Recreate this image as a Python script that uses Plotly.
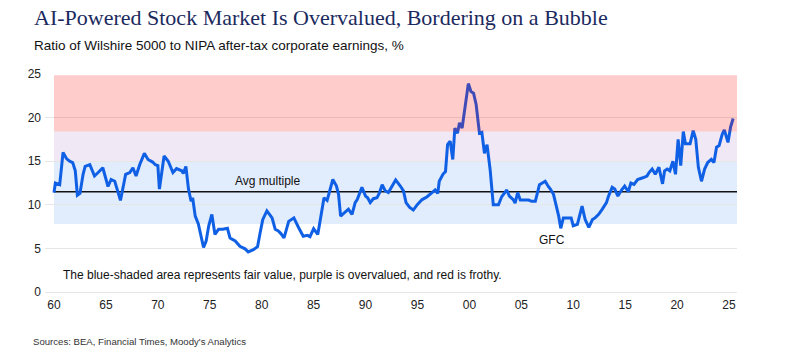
import plotly.graph_objects as go

# ---- data ----
years = [
    1960.00, 1960.13, 1960.55, 1960.87, 1961.2, 1961.5, 1961.8, 1962.05, 1962.25, 1962.5,
    1962.8, 1963.0, 1963.45, 1963.9, 1964.25, 1964.7, 1965.2, 1965.5, 1965.85, 1966.4,
    1966.9, 1967.3, 1967.6, 1967.9, 1968.25, 1968.7, 1969.05, 1969.5, 1969.75, 1970.0,
    1970.15, 1970.6, 1971.0, 1971.45, 1971.8, 1972.3, 1972.45, 1972.7, 1972.95, 1973.2,
    1973.35, 1973.6, 1973.9, 1974.1, 1974.4, 1974.65, 1974.9, 1975.2, 1975.5, 1975.85,
    1976.25, 1976.7, 1976.95, 1977.45, 1977.9, 1978.4, 1978.7, 1979.2, 1979.6, 1979.85,
    1980.1, 1980.5, 1981.0, 1981.3, 1981.6, 1981.85, 1982.15, 1982.6, 1983.1, 1983.55,
    1984.0, 1984.4, 1984.65, 1985.0, 1985.4, 1985.7, 1986.0, 1986.3, 1986.6, 1986.85,
    1987.2, 1987.4, 1987.6, 1988.0, 1988.35, 1988.7, 1989.0, 1989.2, 1989.65, 1990.0,
    1990.2, 1990.45, 1990.75, 1991.1, 1991.35, 1991.6, 1991.9, 1992.2, 1992.55, 1992.9,
    1993.35, 1993.65, 1993.9, 1994.25, 1994.6, 1995.0, 1995.45, 1995.9, 1996.4, 1996.7,
    1996.95, 1997.1, 1997.45, 1997.7, 1997.9, 1998.15, 1998.4, 1998.6, 1998.85, 1999.05,
    1999.3, 1999.6, 1999.9, 2000.15, 2000.4, 2000.65, 2000.97, 2001.2, 2001.45, 2001.7,
    2002.0, 2002.3, 2002.8, 2003.1, 2003.6, 2003.85, 2004.25, 2004.4, 2004.65, 2004.9,
    2005.4, 2005.7, 2006.0, 2006.35, 2006.75, 2007.3, 2007.6, 2007.8, 2008.1, 2008.35,
    2008.6, 2008.8, 2009.05, 2009.4, 2009.8, 2010.0, 2010.4, 2010.85, 2011.15, 2011.5,
    2011.85, 2012.1, 2012.45, 2012.8, 2013.2, 2013.4, 2013.75, 2014.0, 2014.3, 2014.65,
    2014.95, 2015.3, 2015.55, 2015.85, 2016.2, 2016.7, 2017.1, 2017.3, 2017.6, 2017.9,
    2018.25, 2018.6, 2018.8, 2019.05, 2019.3, 2019.6, 2019.85, 2020.1, 2020.35, 2020.6,
    2020.8, 2021.25, 2021.55, 2021.8, 2022.05, 2022.35, 2022.65, 2022.95, 2023.3, 2023.55,
    2023.8, 2024.05, 2024.35, 2024.55, 2024.9, 2025.15, 2025.4,
]
ratio = [
    11.4, 12.5, 12.3, 16.0, 15.3, 15.0, 14.85, 13.9, 11.1, 11.3,
    13.5, 14.4, 14.6, 13.3, 13.7, 14.25, 12.1, 12.9, 12.7, 10.5,
    13.5, 13.7, 14.25, 13.3, 14.6, 15.9, 15.2, 14.9, 14.6, 14.5,
    11.8, 15.6, 15.0, 13.7, 14.15, 13.9, 13.6, 14.4, 11.8, 10.4,
    10.8, 8.7, 7.8, 6.8, 5.1, 5.85, 7.6, 8.9, 6.6, 7.2,
    7.2, 7.3, 6.2, 5.85, 5.25, 4.95, 4.6, 4.85, 5.2, 6.8,
    8.3, 9.3, 8.5, 7.2, 7.0, 6.7, 6.2, 8.1, 8.5, 7.4,
    6.4, 6.5, 6.35, 7.25, 6.6, 8.7, 10.8, 10.5, 11.8, 12.9,
    12.15, 11.2, 8.7, 9.1, 9.5, 8.9, 10.25, 10.6, 12.0, 11.0,
    10.8, 10.25, 10.7, 10.8, 11.4, 12.3, 11.6, 11.4, 12.15, 12.85,
    12.15, 11.6, 10.25, 9.7, 9.4, 10.05, 10.6, 10.9, 11.4, 11.7,
    11.3, 12.7, 13.5, 13.8, 16.9, 17.3, 15.2, 18.8, 18.2, 19.4,
    18.8, 21.3, 23.9, 23.0, 22.8, 21.5, 18.2, 18.3, 15.9, 16.9,
    14.0, 10.0, 10.0, 10.9, 11.7, 11.0, 10.55, 10.2, 11.4, 10.55,
    10.6, 10.55, 10.4, 10.4, 12.3, 12.7, 12.1, 11.8, 11.2, 10.05,
    8.7, 7.3, 8.5, 8.5, 8.5, 7.6, 7.75, 9.85, 8.3, 7.4,
    8.3, 8.5, 8.9, 9.5, 10.25, 11.0, 12.0, 11.8, 11.0, 11.7,
    12.15, 11.5, 12.5, 12.35, 12.9, 13.1, 13.3, 13.7, 14.1, 13.5,
    14.3, 12.4, 13.9, 14.1, 13.9, 15.0, 13.5, 17.5, 14.5, 18.4,
    17.0, 17.0, 18.5, 17.5, 14.3, 12.7, 14.1, 14.85, 15.2, 14.85,
    16.6, 16.8, 18.1, 18.6, 17.15, 18.9, 19.9,
]

avg_multiple = 11.5
fair_band = [7.8, 15.0]       # blue
over_band = [15.0, 18.4]      # purple
froth_band = [18.4, 24.85]    # red
band_x = [1960.0, 2025.77]

tick_years = [1960, 1965, 1970, 1975, 1980, 1985, 1990, 1995, 2000, 2005, 2010, 2015, 2020, 2025]
tick_text = ["60", "65", "70", "75", "80", "85", "90", "95", "00", "05", "10", "15", "20", "25"]

title_text = "AI-Powered Stock Market Is Overvalued, Bordering on a Bubble"
subtitle_text = "Ratio of Wilshire 5000 to NIPA after-tax corporate earnings, %"
note_text = "The blue-shaded area represents fair value, purple is overvalued, and red is frothy."
source_text = "Sources: BEA, Financial Times, Moody's Analytics"

SANS = "Liberation Sans, Arial, sans-serif"
SERIF = "Liberation Serif, Times New Roman, serif"

fig = go.Figure()
fig.add_trace(go.Scatter(
    x=years, y=ratio, mode="lines",
    line=dict(color="#1060e6", width=3),
    hoverinfo="skip", showlegend=False,
))

shapes = [
    dict(type="rect", xref="x", yref="y", x0=band_x[0], x1=band_x[1],
         y0=fair_band[0], y1=fair_band[1], fillcolor="rgb(225,236,252)",
         line=dict(width=0), layer="below"),
    dict(type="rect", xref="x", yref="y", x0=band_x[0], x1=band_x[1],
         y0=over_band[0], y1=over_band[1], fillcolor="rgb(240,232,244)",
         line=dict(width=0), layer="below"),
    dict(type="rect", xref="x", yref="y", x0=band_x[0], x1=band_x[1],
         y0=froth_band[0], y1=froth_band[1], fillcolor="rgba(255,0,0,0.2)",
         line=dict(width=0), layer="above"),
    dict(type="line", xref="x", yref="y", x0=band_x[0], x1=band_x[1],
         y0=avg_multiple, y1=avg_multiple, line=dict(color="#111111", width=1.6),
         layer="between"),
]

annotations = [
    dict(text=title_text, xref="paper", yref="paper", x=-0.0188, y=1.257,
         xanchor="left", yanchor="middle", showarrow=False,
         font=dict(family=SERIF, size=22, color="#1b2a5e")),
    dict(text=subtitle_text, xref="paper", yref="paper", x=-0.0188, y=1.133,
         xanchor="left", yanchor="middle", showarrow=False,
         font=dict(family=SANS, size=13.5, color="#111111")),
    dict(text=source_text, xref="paper", yref="paper", x=-0.0202, y=-0.229,
         xanchor="left", yanchor="middle", showarrow=False,
         font=dict(family=SANS, size=9.6, color="#333333")),
    dict(text="Y2K bubble", xref="x", yref="y", x=1999.6, y=25.9,
         xanchor="center", yanchor="middle", showarrow=False,
         font=dict(family=SANS, size=12, color="#111111")),
    dict(text="Avg multiple", xref="x", yref="y", x=1977.2, y=12.75,
         xanchor="left", yanchor="middle", showarrow=False,
         font=dict(family=SANS, size=12, color="#111111")),
    dict(text="GFC", xref="x", yref="y", x=2007.95, y=5.95,
         xanchor="center", yanchor="middle", showarrow=False,
         font=dict(family=SANS, size=12, color="#111111")),
    dict(text=note_text, xref="x", yref="y", x=1960.65, y=1.9,
         xanchor="left", yanchor="middle", showarrow=False,
         font=dict(family=SANS, size=12, color="#111111")),
]

# the page body adds an 8px offset; the figure is sized to compensate
fig.update_layout(
    width=778, height=354,
    margin=dict(l=37, r=49, t=66, b=70, pad=0, autoexpand=False),
    paper_bgcolor="white", plot_bgcolor="white",
    shapes=shapes, annotations=annotations,
    showlegend=False,
    font=dict(family=SANS, size=12, color="#222222"),
)
fig.update_xaxes(
    range=[1959.133, 2025.77], tickvals=tick_years, ticktext=tick_text,
    showgrid=False, zeroline=False, showline=False, ticks="", automargin=False,
    tickfont=dict(family=SANS, size=12, color="#222222"), ticklabelstandoff=4,
)
fig.update_yaxes(
    range=[0, 25], tickvals=[0, 5, 10, 15, 20, 25],
    showgrid=True, gridcolor="#e6e6e6", gridwidth=1,
    zeroline=True, zerolinecolor="#e6e6e6", zerolinewidth=1, automargin=False,
    showline=False, ticks="", ticklabelstandoff=3,
    tickfont=dict(family=SANS, size=12, color="#222222"),
)

fig.write_html("out.html", config={"displayModeBar": False})
